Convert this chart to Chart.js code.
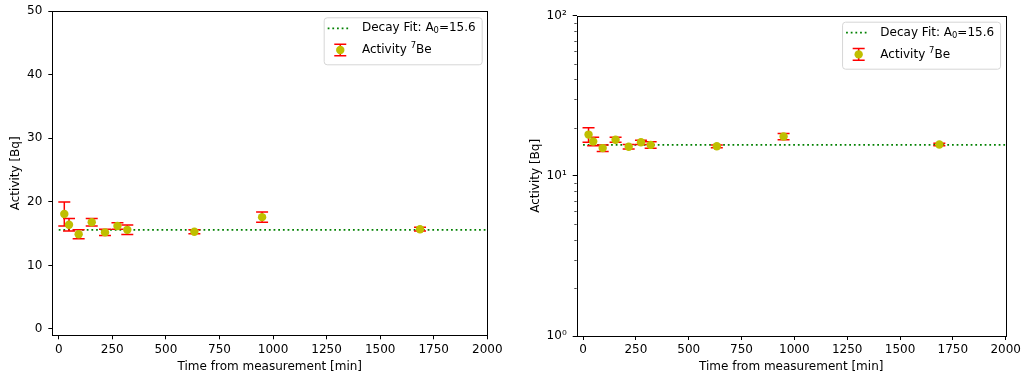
<!DOCTYPE html>
<html>
<head>
<meta charset="utf-8">
<script src="https://cdn.jsdelivr.net/npm/chart.js@4"></script>
<style>
  html, body { margin: 0; padding: 0; background: #fff; }
  #wrap { position: relative; width: 1022px; height: 377px; }
  .panel { position: absolute; top: 0; height: 377px; }
</style>
</head>
<body>
<div id="wrap">
  <div class="panel" style="left:0;width:515px"><canvas id="linChart" width="515" height="377"></canvas></div>
  <div class="panel" style="left:515px;width:507px"><canvas id="logChart" width="507" height="377"></canvas></div>
</div>
<script>
// Measured 7Be activity per sample
const timesMin    = [26, 48, 93, 154, 216, 274, 320, 633, 949, 1686];
const activityBq  = [18.1, 16.4, 14.9, 16.8, 15.2, 16.2, 15.6, 15.3, 17.6, 15.7];
const activityErr = [1.9, 1.0, 0.7, 0.6, 0.5, 0.5, 0.75, 0.3, 0.8, 0.3];

// Decay fit
const fitA0 = 15.6;
const fitSpan = [0, 2000];

// Axis ticks
const xTickValues = [0, 250, 500, 750, 1000, 1250, 1500, 1750, 2000];
const linYTicks = [0, 10, 20, 30, 40, 50];
const logYTicks = [1, 10, 100];
const logYTickLabels = ['10\u2070', '10\u00B9', '10\u00B2'];
const logMinorTicks = [2, 3, 4, 5, 6, 7, 8, 9, 20, 30, 40, 50, 60, 70, 80, 90];

const xTitle = 'Time from measurement [min]';
const yTitle = 'Activity [Bq]';
const legendFit = [{t: 'Decay Fit: A'}, {t: '0', sub: true}, {t: '=' + fitA0.toFixed(1)}];
const legendData = [{t: 'Activity '}, {t: '7', sup: true}, {t: 'Be'}];

const FONT = 'DejaVu Sans';
const FS = 12;
const POINT_COLOR = '#bfbf00';
const ERR_COLOR = '#ff0000';
const FIT_COLOR = '#008000';

Chart.defaults.font.family = FONT;
Chart.defaults.font.size = FS;
Chart.defaults.color = '#000';

function drawRich(ctx, segs, x, y) {
  ctx.save();
  ctx.textBaseline = 'middle';
  ctx.textAlign = 'left';
  ctx.fillStyle = '#000';
  let cx = x;
  for (const s of segs) {
    const small = s.sub || s.sup;
    ctx.font = (small ? FS * 0.7 : FS) + 'px "' + FONT + '"';
    const dy = s.sub ? 3 : (s.sup ? -4 : 0);
    ctx.fillText(s.t, cx, y + dy);
    cx += ctx.measureText(s.t).width;
  }
  ctx.restore();
  return cx - x;
}

function richWidth(ctx, segs) {
  ctx.save();
  let w = 0;
  for (const s of segs) {
    ctx.font = ((s.sub || s.sup) ? FS * 0.7 : FS) + 'px "' + FONT + '"';
    w += ctx.measureText(s.t).width;
  }
  ctx.restore();
  return w;
}

function drawErrBar(ctx, x, yTop, yBot, cap) {
  ctx.beginPath();
  ctx.moveTo(x, yTop); ctx.lineTo(x, yBot);
  ctx.moveTo(x - cap, yTop); ctx.lineTo(x + cap, yTop);
  ctx.moveTo(x - cap, yBot); ctx.lineTo(x + cap, yBot);
  ctx.stroke();
}

const decorPlugin = {
  id: 'decor',
  beforeDatasetDraw(chart, args) {
    if (args.index !== 0) return;
    const {ctx, chartArea: a, scales: {x, y}} = chart;
    ctx.save();
    ctx.beginPath();
    ctx.rect(a.left, a.top, a.right - a.left, a.bottom - a.top);
    ctx.clip();
    ctx.strokeStyle = ERR_COLOR;
    ctx.lineWidth = 1.5;
    timesMin.forEach((t, i) => {
      const px = x.getPixelForValue(t);
      const yt = y.getPixelForValue(activityBq[i] + activityErr[i]);
      const yb = y.getPixelForValue(activityBq[i] - activityErr[i]);
      drawErrBar(ctx, px, yt, yb, 6);
    });
    ctx.restore();
  },
  afterDraw(chart) {
    const {ctx, chartArea: a} = chart;
    const opts = chart.options.plugins.decor;
    ctx.save();
    // minor ticks on the log axis
    if (opts.minor) {
      const y = chart.scales.y;
      ctx.strokeStyle = '#000';
      ctx.lineWidth = 0.7;
      ctx.beginPath();
      for (const v of opts.minor) {
        const py = Math.round(y.getPixelForValue(v)) + 0.5;
        ctx.moveTo(a.left, py); ctx.lineTo(a.left - 2.4, py);
      }
      ctx.stroke();
    }
    // axes frame
    ctx.strokeStyle = '#000';
    ctx.lineWidth = 1;
    ctx.strokeRect(Math.round(a.left) + 0.5, Math.round(a.top) + 0.5,
                   Math.round(a.right) - Math.round(a.left), Math.round(a.bottom) - Math.round(a.top));

    // legend
    const tw = Math.max(richWidth(ctx, legendFit), richWidth(ctx, legendData));
    const bw = 38.3 + tw + 6;
    const bh = 47;
    const bx = a.right - 5.6 - bw;
    const by = a.top + 6;
    ctx.beginPath();
    ctx.roundRect(bx + 0.5, by + 0.5, bw, bh, 3);
    ctx.fillStyle = 'rgba(255,255,255,0.8)';
    ctx.fill();
    ctx.strokeStyle = '#d6d6d6';
    ctx.lineWidth = 1;
    ctx.stroke();

    const y1 = by + 11, y2 = by + 32.7;
    // fit line handle
    ctx.beginPath();
    ctx.setLineDash([1.77, 2.9]);
    ctx.strokeStyle = FIT_COLOR;
    ctx.lineWidth = 1.77;
    ctx.moveTo(bx + 4, y1); ctx.lineTo(bx + 25.6, y1);
    ctx.stroke();
    ctx.setLineDash([]);
    // errorbar handle
    const hx = bx + 16.6;
    ctx.strokeStyle = ERR_COLOR;
    ctx.lineWidth = 1.5;
    drawErrBar(ctx, hx, y2 - 5.8, y2 + 5.8, 6);
    ctx.beginPath();
    ctx.arc(hx, y2, 4.2, 0, Math.PI * 2);
    ctx.fillStyle = POINT_COLOR;
    ctx.fill();

    drawRich(ctx, legendFit, bx + 38.3, y1);
    drawRich(ctx, legendData, bx + 38.3, y2);
    ctx.restore();
  }
};

function makeChart(id, cfg) {
  const pts = timesMin.map((t, i) => ({x: t, y: activityBq[i]}));
  const fit = fitSpan.map(t => ({x: t, y: fitA0}));
  const tickGrid = {
    display: true, drawOnChartArea: false, drawTicks: true,
    tickLength: 4, tickColor: '#000', tickWidth: 1
  };
  return new Chart(document.getElementById(id), {
    type: 'scatter',
    data: {
      datasets: [
        {
          label: 'Activity 7Be', data: pts,
          pointRadius: 4.2, pointHoverRadius: 4.2,
          backgroundColor: POINT_COLOR, borderColor: POINT_COLOR, borderWidth: 0
        },
        {
          type: 'line', label: 'Decay Fit', data: fit,
          borderColor: FIT_COLOR, borderWidth: 1.77, borderDash: [1.77, 2.9],
          borderCapStyle: 'butt', pointRadius: 0, fill: false, tension: 0
        }
      ]
    },
    options: {
      responsive: false,
      animation: false,
      devicePixelRatio: 1,
      layout: {padding: {left: 0, top: cfg.top, right: cfg.right, bottom: 0}},
      plugins: {
        legend: {display: false},
        tooltip: {enabled: false},
        decor: {minor: cfg.minor}
      },
      scales: {
        x: {
          type: 'linear', min: -30, max: 2000,
          grid: tickGrid, border: {display: false},
          afterBuildTicks: s => { s.ticks = xTickValues.map(v => ({value: v})); },
          afterFit: s => { s.height = cfg.xh; s.paddingLeft = 0; s.paddingRight = 0; },
          ticks: {
            padding: 3, maxRotation: 0, autoSkip: false, color: '#000', font: {size: FS},
            callback: v => String(v)
          },
          title: {display: true, text: xTitle, color: '#000', font: {size: FS}, padding: {top: 0, bottom: 3}}
        },
        y: cfg.y(tickGrid)
      }
    },
    plugins: [decorPlugin]
  });
}

makeChart('linChart', {
  top: 11.3, right: 27.7, xh: 41.7,
  y: grid => ({
    type: 'linear', min: -1, max: 50,
    grid: grid, border: {display: false},
    afterBuildTicks: s => { s.ticks = linYTicks.map(v => ({value: v})); },
    afterFit: s => { s.width = 52.3; s.paddingTop = 0; s.paddingBottom = 0; },
    ticks: {padding: 6, color: '#000', font: {size: FS}, callback: v => String(v)},
    title: {display: true, text: yTitle, color: '#000', font: {size: FS}, padding: {top: 9, bottom: 0}}
  })
});

makeChart('logChart', {
  top: 15.7, right: 16.3, xh: 41, minor: logMinorTicks,
  y: grid => ({
    type: 'logarithmic', min: 1, max: 100,
    grid: grid, border: {display: false},
    afterBuildTicks: s => { s.ticks = logYTicks.map(v => ({value: v, major: true})); },
    afterFit: s => { s.width = 61.7; s.paddingTop = 0; s.paddingBottom = 0; },
    ticks: {
      padding: 6, color: '#000', font: {size: FS},
      callback: v => logYTickLabels[logYTicks.indexOf(v)]
    },
    title: {display: true, text: yTitle, color: '#000', font: {size: FS}, padding: {top: 14, bottom: 0}}
  })
});
</script>
</body>
</html>
